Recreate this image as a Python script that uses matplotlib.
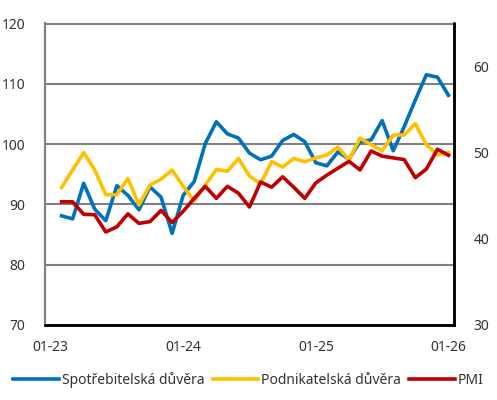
import matplotlib
matplotlib.use("Agg")
from matplotlib import pyplot as plt
import numpy as np

# monthly data, Feb 2023 .. Jan 2026 (x index 0 = 01-23)
months = np.arange(1, 37)

spotrebitelska = [88.1, 87.6, 93.5, 89.2, 87.3, 93.1, 91.5, 89.1, 92.9, 91.2, 85.2, 91.5,
                  93.8, 100.1, 103.7, 101.7, 101.0, 98.5, 97.4, 98.0, 100.6, 101.6, 100.4, 96.9,
                  96.4, 98.7, 97.5, 100.4, 100.7, 103.9, 98.9, 102.9, 107.3, 111.5, 111.1, 108.1]

podnikatelska = [92.8, 95.7, 98.6, 95.7, 91.6, 91.6, 94.3, 89.9, 93.2, 94.2, 95.7, 93.0,
                 90.6, 93.2, 95.8, 95.5, 97.6, 94.7, 93.4, 97.1, 96.2, 97.6, 97.1, 97.7,
                 98.2, 99.5, 97.4, 101.0, 99.9, 98.9, 101.5, 101.5, 103.4, 99.9, 98.2, 98.6]

pmi = [44.3, 44.3, 42.85, 42.8, 40.8, 41.4, 42.9, 41.8, 42.0, 43.3, 41.9, 43.2,
       44.7, 46.1, 44.7, 46.1, 45.3, 43.7, 46.6, 46.0, 47.2, 46.0, 44.7, 46.5,
       47.4, 48.2, 49.0, 48.0, 50.2, 49.6, 49.4, 49.2, 47.1, 48.1, 50.4, 49.7]

tick_pos = [0, 12, 24, 36]
tick_labels = ['01-23', '01-24', '01-25', '01-26']
left_ticks = [70, 80, 90, 100, 110, 120]
right_ticks = [30, 40, 50, 60]

c_blue = '#0071BC'
c_yellow = '#FFC000'
c_red = '#C00000'
c_grid = '#808080'
txt = '#333333'

plt.rcParams['font.family'] = ['Noto Sans', 'DejaVu Sans']
plt.rcParams['font.size'] = 10

fig = plt.figure(figsize=(4.97, 4.0), dpi=100)
ax = fig.add_axes([45/497, 75/400, 409/497, 301.5/400])
ax2 = ax.twinx()

# horizontal grid lines (top one is the gray top spine)
for v in left_ticks[1:-1]:
    ax.axhline(v, color=c_grid, lw=1.5, zorder=0.5)

l1, = ax.plot(months, spotrebitelska, color=c_blue, lw=2.6, solid_joinstyle='round',
              label='Spotřebitelská důvěra')
l2, = ax.plot(months, podnikatelska, color=c_yellow, lw=2.6, solid_joinstyle='round',
              label='Podnikatelská důvěra')
l3, = ax2.plot(months, pmi, color=c_red, lw=2.6, solid_joinstyle='round', label='PMI')

ax.set_xlim(-0.5, 36.5)
ax.set_ylim(70, 120)
ax.set_yticks(left_ticks)
ax2.set_ylim(30, 65)
ax2.set_yticks(right_ticks)
ax.set_xticks(tick_pos)
ax.set_xticklabels(tick_labels)

ax.tick_params(axis='both', length=0, colors=txt, labelsize=10)
ax.tick_params(axis='y', pad=14)
ax.tick_params(axis='x', pad=11)
ax2.tick_params(axis='y', length=0, colors=txt, labelsize=10, pad=14)

ax2.spines['top'].set_visible(False)
ax.spines['top'].set_color(c_grid)
ax.spines['top'].set_linewidth(1.5)
for a in (ax, ax2):
    a.spines['left'].set_color(c_grid)
    a.spines['left'].set_linewidth(1.5)
    a.spines['bottom'].set_color('black')
    a.spines['bottom'].set_linewidth(1.8)
    a.spines['right'].set_color('black')
    a.spines['right'].set_linewidth(1.8)

fig.legend(handles=[l1, l2, l3], loc='lower center', bbox_to_anchor=(0.5, 0.0),
           ncol=3, frameon=False, handlelength=3.3, handletextpad=0.2,
           columnspacing=0.6, fontsize=10, labelcolor=txt)

fig.savefig('out.png', dpi=100)
